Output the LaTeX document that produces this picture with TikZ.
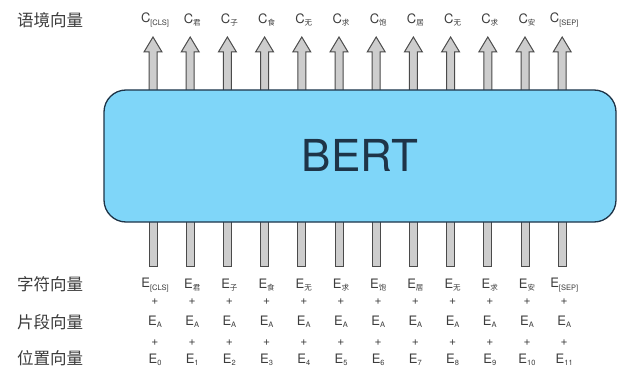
\documentclass[tikz,border=0pt]{standalone}
\usepackage{fontspec}
\setmainfont{TeX Gyre Heros}
\newfontfamily\cjk{Noto Sans CJK SC}
\definecolor{bertfill}{HTML}{7FD6F9}
\definecolor{bertline}{HTML}{1E3448}
\definecolor{txt}{HTML}{3C3C3C}
\definecolor{arrline}{HTML}{4A4A4A}
\definecolor{arrfill}{HTML}{CDCDCD}
\newcommand{\sbs}[1]{\raisebox{-2.5pt}{\fontsize{7.5}{7.5}\selectfont #1}}
\newcommand{\cs}[1]{\raisebox{-2.5pt}{\fontsize{7.5}{7.5}\selectfont\cjk #1}}
\begin{document}
\begin{tikzpicture}[x=1pt,y=-1pt,
  lbl/.style={text=txt,font=\fontsize{13}{13}\selectfont,inner sep=0pt},
  rowlbl/.style={text=txt,font=\fontsize{16.5}{16.5}\selectfont\cjk,anchor=west,inner sep=0pt},
  plus/.style={text=txt,font=\fontsize{12}{12}\selectfont,inner sep=0pt},
  bertbox/.style={draw=bertline,fill=bertfill,line width=1.3pt,rounded corners=22pt},
  arr/.style={draw=arrline,fill=arrfill,line width=1pt,line join=miter}]
\useasboundingbox (0,0) rectangle (635,369);
\fill[white] (0,0) rectangle (635,369);
% arrows
\foreach \i in {0,...,11}{
  \pgfmathsetmacro{\x}{153+37.2*\i}
  \draw[arr] (\x-4,90) -- (\x-4,52) -- (\x-9,52) -- (\x,37) -- (\x+9,52) -- (\x+4,52) -- (\x+4,90);
  \draw[arr] (\x-4,222) -- (\x-4,266) -- (\x+4,266) -- (\x+4,222);
}
% BERT box
\draw[bertbox] (104,90) rectangle (616,222);
\node[text=bertline,font=\fontsize{44}{44}\selectfont,inner sep=0pt] (bert) at (360,155) {BERT};
% left labels
\node[rowlbl] (lctx) at (17,20) {语境向量};
\node[rowlbl] (ltok) at (17,284) {字符向量};
\node[rowlbl] (lseg) at (17,322) {片段向量};
\node[rowlbl] (lpos) at (17,358) {位置向量};
% tokens
\foreach \t [count=\j from 0] in {\sbs{[CLS]},\cs{君},\cs{子},\cs{食},\cs{无},\cs{求},\cs{饱},\cs{居},\cs{无},\cs{求},\cs{安},\sbs{[SEP]}}{
  \pgfmathsetmacro{\x}{155+37.2*\j}
  \node[lbl] (c\j) at (\x,20) {C\t};
  \node[lbl] (e\j) at (\x,285) {E\t};
  \node[plus] (p\j) at (\x,302) {+};
  \node[lbl] (s\j) at (\x,322) {E\sbs{A}};
  \node[plus] (q\j) at (\x,343) {+};
  \pgfmathtruncatemacro{\n}{\j}
  \node[lbl] (n\j) at (\x,360) {E\sbs{\n}};
}
\end{tikzpicture}
\end{document}
